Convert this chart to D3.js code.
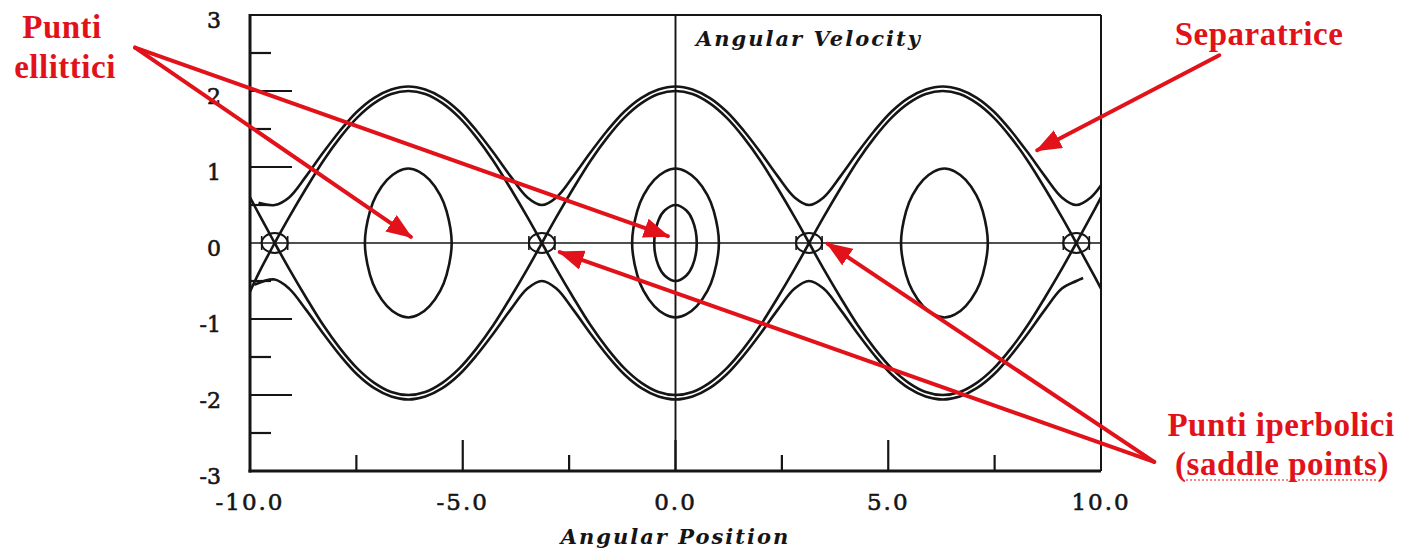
<!DOCTYPE html>
<html>
<head>
<meta charset="utf-8">
<script src="https://cdn.jsdelivr.net/npm/d3@7"></script>
<style>
  body { margin: 0; background: #fff; }
  svg { display: block; }
</style>
</head>
<body>
<svg id="chart" width="1403" height="550"></svg>
<script>
// axis ranges and ticks
var xDomain = [-10, 10];
var yDomain = [-3, 3];
var xTickMajor = [-10, -5, 0, 5, 10];
var xTickLabels = ["-10.0", "-5.0", "0.0", "5.0", "10.0"];
var xTickMinor = [-7.5, -2.5, 2.5, 7.5];
var yTickMajor = [-3, -2, -1, 0, 1, 2, 3];
var yTickLabels = ["-3", "-2", "-1", "0", "1", "2", "3"];
var yTickMinor = [-2.5, -1.5, -0.5, 0.5, 1.5, 2.5];

// separatrix lobes (angular position, angular velocity)
var lobeThetaL = [-9.42, -9.08, -8.68, -8.28, -7.88, -7.48, -7.08, -6.68, -6.28, -5.88, -5.48, -5.08, -4.68, -4.28, -3.88, -3.48, -3.14];
var lobeThetaC = [-3.14, -2.8, -2.4, -2.0, -1.6, -1.2, -0.8, -0.4, 0, 0.4, 0.8, 1.2, 1.6, 2.0, 2.4, 2.8, 3.14];
var lobeThetaR = [3.14, 3.48, 3.88, 4.28, 4.68, 5.08, 5.48, 5.88, 6.28, 6.68, 7.08, 7.48, 7.88, 8.28, 8.68, 9.08, 9.42];
var sepUpperV = [0, 0.34, 0.72, 1.08, 1.39, 1.65, 1.84, 1.96, 2.0, 1.96, 1.84, 1.65, 1.39, 1.08, 0.72, 0.34, 0];
var sepLowerV = [0, -0.34, -0.72, -1.08, -1.39, -1.65, -1.84, -1.96, -2.0, -1.96, -1.84, -1.65, -1.39, -1.08, -0.72, -0.34, 0];
// pieces of separatrix beyond the outer saddle points
var edgeThetaL = [-10, -9.78, -9.42];
var edgeThetaR = [9.42, 9.78, 10];
var edgeUpperL = [0.6, 0.37, 0];
var edgeLowerL = [-0.64, -0.38, 0];
var edgeUpperR = [0, 0.37, 0.6];
var edgeLowerR = [0, -0.37, -0.6];

// rotation orbits just outside the separatrix
var rotUpperTheta = [-9.8, -9.42, -9.08, -8.68, -8.28, -7.88, -7.48, -7.08, -6.68, -6.28, -5.88, -5.48, -5.08, -4.68, -4.28, -3.88, -3.48, -3.14,
  -2.8, -2.4, -2.0, -1.6, -1.2, -0.8, -0.4, 0, 0.4, 0.8, 1.2, 1.6, 2.0, 2.4, 2.8, 3.14,
  3.48, 3.88, 4.28, 4.68, 5.08, 5.48, 5.88, 6.28, 6.68, 7.08, 7.48, 7.88, 8.28, 8.68, 9.08, 9.42, 9.76, 10];
var rotUpperV = [0.53, 0.5, 0.6, 0.88, 1.19, 1.48, 1.73, 1.91, 2.02, 2.06, 2.02, 1.91, 1.73, 1.48, 1.19, 0.88, 0.6, 0.5,
  0.6, 0.88, 1.19, 1.48, 1.73, 1.91, 2.02, 2.06, 2.02, 1.91, 1.73, 1.48, 1.19, 0.88, 0.6, 0.5,
  0.6, 0.88, 1.19, 1.48, 1.73, 1.91, 2.02, 2.06, 2.02, 1.91, 1.73, 1.48, 1.19, 0.88, 0.6, 0.5, 0.6, 0.76];
var rotLowerTheta = [-9.9, -9.42, -9.08, -8.68, -8.28, -7.88, -7.48, -7.08, -6.68, -6.28, -5.88, -5.48, -5.08, -4.68, -4.28, -3.88, -3.48, -3.14,
  -2.8, -2.4, -2.0, -1.6, -1.2, -0.8, -0.4, 0, 0.4, 0.8, 1.2, 1.6, 2.0, 2.4, 2.8, 3.14,
  3.48, 3.88, 4.28, 4.68, 5.08, 5.48, 5.88, 6.28, 6.68, 7.08, 7.48, 7.88, 8.28, 8.68, 9.08, 9.42, 9.58];
var rotLowerV = [-0.55, -0.48, -0.6, -0.88, -1.19, -1.48, -1.73, -1.91, -2.02, -2.06, -2.02, -1.91, -1.73, -1.48, -1.19, -0.88, -0.6, -0.5,
  -0.6, -0.88, -1.19, -1.48, -1.73, -1.91, -2.02, -2.06, -2.02, -1.91, -1.73, -1.48, -1.19, -0.88, -0.6, -0.5,
  -0.6, -0.88, -1.19, -1.48, -1.73, -1.91, -2.02, -2.06, -2.02, -1.91, -1.73, -1.48, -1.19, -0.88, -0.6, -0.5, -0.46];

// closed libration orbits
var smallOrbitTheta = [0.5, 0.4, 0.25, 0, -0.25, -0.4, -0.5, -0.4, -0.25, 0, 0.25, 0.4];
var smallOrbitV = [0, 0.3, 0.43, 0.5, 0.43, 0.3, 0, -0.3, -0.43, -0.5, -0.43, -0.3];
var midOrbitTheta = [1.02, 0.9, 0.75, 0.5, 0.25, 0, -0.25, -0.5, -0.75, -0.9, -1.02, -0.9, -0.75, -0.5, -0.25, 0, 0.25, 0.5, 0.75, 0.9];
var leftOrbitTheta = [-5.26, -5.38, -5.53, -5.78, -6.03, -6.28, -6.53, -6.78, -7.03, -7.18, -7.3, -7.18, -7.03, -6.78, -6.53, -6.28, -6.03, -5.78, -5.53, -5.38];
var rightOrbitTheta = [7.34, 7.22, 7.07, 6.82, 6.57, 6.32, 6.07, 5.82, 5.57, 5.42, 5.3, 5.42, 5.57, 5.82, 6.07, 6.32, 6.57, 6.82, 7.07, 7.22];
var midOrbitV = [0, 0.42, 0.63, 0.83, 0.94, 0.98, 0.94, 0.83, 0.63, 0.42, 0, -0.42, -0.63, -0.83, -0.94, -0.98, -0.94, -0.83, -0.63, -0.42];

// saddle (hyperbolic) points
var saddleTheta = [-9.42, -3.14, 3.14, 9.42];

// red annotations: text and arrows (start -> tip, in data units)
var noteColor = "#e2121b";
var arrows = [
  { from: [-12.7, 2.57], to: [-6.22, 0.08] },
  { from: [-12.7, 2.57], to: [-0.18, 0.09] },
  { from: [12.78, 2.47], to: [8.5, 1.22] },
  { from: [11.25, -2.88], to: [-2.72, -0.12] },
  { from: [11.25, -2.88], to: [3.58, -0.01] }
];

var svg = d3.select("#chart");
var margins = { top: 15, bottom: 79, left: 250, right: 302 };
var width = +svg.attr("width");
var height = +svg.attr("height");

var x = d3.scaleLinear().domain(xDomain).range([margins.left, width - margins.right]);
var y = d3.scaleLinear().domain(yDomain).range([height - margins.bottom, margins.top]);

var defs = svg.append("defs");
defs.append("clipPath").attr("id", "plotclip")
  .append("rect")
  .attr("x", x(-10)).attr("y", y(3))
  .attr("width", x(10) - x(-10)).attr("height", y(-3) - y(3));

defs.append("marker")
  .attr("id", "redhead")
  .attr("viewBox", "0 0 26 20")
  .attr("refX", 24).attr("refY", 10)
  .attr("markerWidth", 26).attr("markerHeight", 20)
  .attr("markerUnits", "userSpaceOnUse")
  .attr("orient", "auto")
  .append("path")
  .attr("d", "M0,0 L26,10 L0,20 Z")
  .attr("fill", noteColor);

var tickFont = "'DejaVu Serif', serif";
var ink = "#151515";

// frame
var frame = svg.append("g");
frame.append("line").attr("x1", x(-10)).attr("x2", x(10)).attr("y1", y(3)).attr("y2", y(3))
  .attr("stroke", ink).attr("stroke-width", 2);
frame.append("line").attr("x1", x(10)).attr("x2", x(10)).attr("y1", y(3)).attr("y2", y(-3))
  .attr("stroke", ink).attr("stroke-width", 2);
frame.append("line").attr("x1", x(-10)).attr("x2", x(-10)).attr("y1", y(3) - 1).attr("y2", y(-3) + 1.5)
  .attr("stroke", ink).attr("stroke-width", 3);
frame.append("line").attr("x1", x(-10) - 1.5).attr("x2", x(10)).attr("y1", y(-3)).attr("y2", y(-3))
  .attr("stroke", ink).attr("stroke-width", 3);

// zero lines
frame.append("line").attr("x1", x(-10)).attr("x2", x(10)).attr("y1", y(0)).attr("y2", y(0))
  .attr("stroke", ink).attr("stroke-width", 1.7);
frame.append("line").attr("x1", x(0)).attr("x2", x(0)).attr("y1", y(3)).attr("y2", y(-3))
  .attr("stroke", ink).attr("stroke-width", 1.9);

// y ticks (pointing into the plot)
frame.selectAll(".ymaj").data(yTickMajor.filter(d => Math.abs(d) < 3 && d != 0)).enter().append("line")
  .attr("x1", x(-10)).attr("x2", x(-10) + 42)
  .attr("y1", d => y(d)).attr("y2", d => y(d))
  .attr("stroke", ink).attr("stroke-width", 2.2);
frame.selectAll(".ymin").data(yTickMinor).enter().append("line")
  .attr("x1", x(-10)).attr("x2", x(-10) + 21)
  .attr("y1", d => y(d)).attr("y2", d => y(d))
  .attr("stroke", ink).attr("stroke-width", 2.2);

// x ticks (pointing up from the bottom)
frame.selectAll(".xmaj").data(xTickMajor.filter(d => Math.abs(d) < 10)).enter().append("line")
  .attr("x1", d => x(d)).attr("x2", d => x(d))
  .attr("y1", y(-3)).attr("y2", y(-3) - 31)
  .attr("stroke", ink).attr("stroke-width", 2.2);
frame.selectAll(".xmin").data(xTickMinor).enter().append("line")
  .attr("x1", d => x(d)).attr("x2", d => x(d))
  .attr("y1", y(-3)).attr("y2", y(-3) - 16)
  .attr("stroke", ink).attr("stroke-width", 2.2);

// tick labels
svg.selectAll(".ylab").data(yTickMajor).enter().append("text")
  .attr("x", x(-10) - 29)
  .attr("y", d => y(d) + 13)
  .attr("text-anchor", "end")
  .style("font-family", tickFont)
  .style("font-size", "22px")
  .style("fill", ink).style("stroke", ink).style("stroke-width", "0.6px")
  .text((d, i) => yTickLabels[i]);

svg.selectAll(".xlab").data(xTickMajor).enter().append("text")
  .attr("x", d => x(d))
  .attr("y", y(-3) + 39)
  .attr("text-anchor", "middle")
  .style("font-family", tickFont)
  .style("font-size", "23px")
  .style("letter-spacing", "2px")
  .style("fill", ink).style("stroke", ink).style("stroke-width", "0.6px")
  .text((d, i) => xTickLabels[i]);

// axis titles
svg.append("text")
  .attr("x", 696).attr("y", 46)
  .style("font-family", tickFont)
  .style("font-style", "italic").style("font-weight", "700")
  .style("font-size", "21px").style("letter-spacing", "2px")
  .style("fill", ink)
  .text("Angular Velocity");

svg.append("text")
  .attr("x", x(0)).attr("y", 544)
  .attr("text-anchor", "middle")
  .style("font-family", tickFont)
  .style("font-style", "italic").style("font-weight", "700")
  .style("font-size", "21px").style("letter-spacing", "2px")
  .style("fill", ink)
  .text("Angular Position");

// phase portrait
var c = svg.append("g").attr("clip-path", "url(#plotclip)");
var openLine = d3.line().x(d => x(d[0])).y(d => y(d[1])).curve(d3.curveCatmullRom);
var closedLine = d3.line().x(d => x(d[0])).y(d => y(d[1])).curve(d3.curveCatmullRomClosed);

var openCurves = [
  d3.zip(lobeThetaL, sepUpperV), d3.zip(lobeThetaL, sepLowerV),
  d3.zip(lobeThetaC, sepUpperV), d3.zip(lobeThetaC, sepLowerV),
  d3.zip(lobeThetaR, sepUpperV), d3.zip(lobeThetaR, sepLowerV),
  d3.zip(edgeThetaL, edgeUpperL), d3.zip(edgeThetaL, edgeLowerL),
  d3.zip(edgeThetaR, edgeUpperR), d3.zip(edgeThetaR, edgeLowerR),
  d3.zip(rotUpperTheta, rotUpperV), d3.zip(rotLowerTheta, rotLowerV)
];
var closedCurves = [
  d3.zip(smallOrbitTheta, smallOrbitV),
  d3.zip(midOrbitTheta, midOrbitV),
  d3.zip(leftOrbitTheta, midOrbitV),
  d3.zip(rightOrbitTheta, midOrbitV)
];

c.selectAll(".orbit-open").data(openCurves).enter().append("path")
  .attr("d", openLine)
  .attr("fill", "none").attr("stroke", ink).attr("stroke-width", 2.6);
c.selectAll(".orbit-closed").data(closedCurves).enter().append("path")
  .attr("d", closedLine)
  .attr("fill", "none").attr("stroke", ink).attr("stroke-width", 2.6);

// saddle markers
var saddles = c.selectAll(".saddle").data(saddleTheta).enter().append("g")
  .attr("transform", d => "translate(" + x(d) + "," + y(0) + ")");
saddles.append("ellipse").attr("rx", 13).attr("ry", 10)
  .attr("fill", "none").attr("stroke", ink).attr("stroke-width", 2);
saddles.append("line").attr("x1", -13).attr("x2", -13).attr("y1", -7).attr("y2", 7)
  .attr("stroke", ink).attr("stroke-width", 1.6);
saddles.append("line").attr("x1", 13).attr("x2", 13).attr("y1", -7).attr("y2", 7)
  .attr("stroke", ink).attr("stroke-width", 1.6);

// red annotations
var notes = svg.append("g");
notes.selectAll(".arrow").data(arrows).enter().append("line")
  .attr("x1", d => x(d.from[0])).attr("y1", d => y(d.from[1]))
  .attr("x2", d => x(d.to[0])).attr("y2", d => y(d.to[1]))
  .attr("stroke", noteColor).attr("stroke-width", 4)
  .attr("stroke-linecap", "round")
  .attr("marker-end", "url(#redhead)");

function note(txt, px, py) {
  notes.append("text")
    .attr("x", px).attr("y", py)
    .attr("text-anchor", "middle")
    .style("font-family", "'Liberation Serif', 'Times New Roman', serif")
    .style("font-weight", "700")
    .style("font-size", "33px")
    .style("letter-spacing", "0.5px")
    .style("fill", noteColor)
    .text(txt);
}
note("Punti", 62, 38);
note("ellittici", 65, 78);
note("Separatrice", 1259, 45);
note("Punti iperbolici", 1281, 436);
note("(saddle points)", 1282, 475);

// spell-check squiggle under "saddle points"
notes.append("line")
  .attr("x1", 1186).attr("x2", 1376).attr("y1", 480).attr("y2", 480)
  .attr("stroke", noteColor).attr("stroke-width", 1.2)
  .attr("stroke-dasharray", "2,2");
</script>
</body>
</html>
